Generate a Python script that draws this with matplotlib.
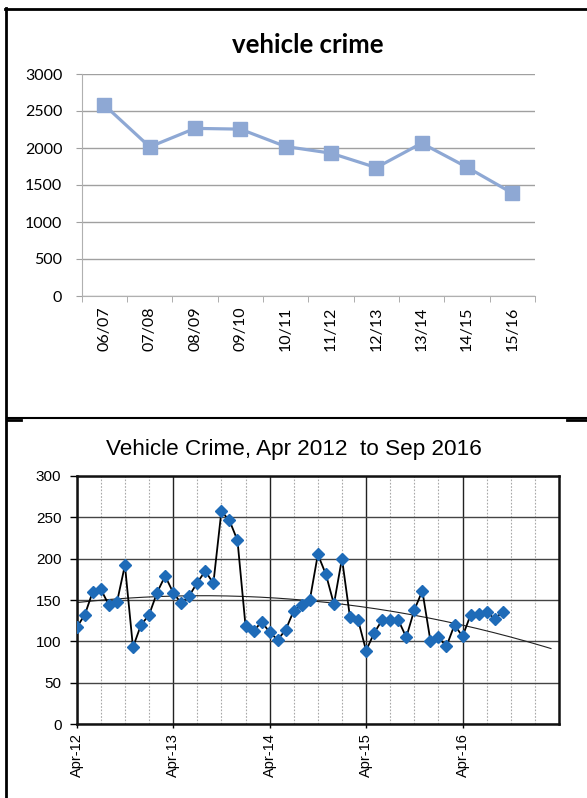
import numpy as np
import matplotlib
matplotlib.use("Agg")
import matplotlib.pyplot as plt
from matplotlib.lines import Line2D

# yearly totals (top chart)
years = ["06/07", "07/08", "08/09", "09/10", "10/11", "11/12", "12/13", "13/14", "14/15", "15/16"]
yearly = [2580, 2015, 2265, 2255, 2020, 1930, 1735, 2065, 1740, 1390]

# monthly counts Apr 2012 - Sep 2016 (bottom chart)
monthly = [117, 132, 160, 163, 144, 147, 192, 93, 120, 132, 159, 179,
           159, 146, 155, 171, 185, 170, 257, 246, 222, 119, 112, 124,
           111, 102, 114, 137, 144, 150, 205, 181, 145, 200, 129, 126,
           89, 110, 126, 126, 126, 105, 138, 161, 101, 105, 94, 120,
           106, 132, 133, 136, 127, 136]
month_ticks = ["Apr-12", "Apr-13", "Apr-14", "Apr-15", "Apr-16"]

W, H = 587, 798
fig = plt.figure(figsize=(W / 100, H / 100), dpi=100)

def fx(px):
    return px / W

def fy(py):
    return 1 - py / H

# ---------- top chart ----------
ax1 = fig.add_axes([fx(81.7), fy(296), fx(535 - 81.7), (296 - 74) / H])
col = "#8EA8D4"
x1 = np.arange(len(yearly))
ax1.plot(x1, yearly, color=col, lw=2.3, marker="s", ms=10, mec=col, mfc=col)
ax1.set_xlim(-0.5, len(yearly) - 0.5)
ax1.set_ylim(0, 3000)
ax1.set_yticks(range(0, 3001, 500))
ax1.yaxis.grid(True, color="#A0A0A0", lw=1)
ax1.set_axisbelow(True)
ax1.set_xticks(x1)
ax1.set_xticklabels(years, rotation=90, fontname="Lato", fontsize=11.5)
ax1.set_xticks(np.arange(-0.5, len(yearly)), minor=True)
ax1.tick_params(axis="x", which="major", length=0, pad=7.5)
ax1.tick_params(axis="x", which="minor", length=4, color="#A0A0A0", direction="out")
ax1.tick_params(axis="y", length=4, color="#A0A0A0", pad=10)
for lab in ax1.get_yticklabels():
    lab.set_fontname("Lato")
    lab.set_fontsize(11.5)
for s in ["top", "right"]:
    ax1.spines[s].set_visible(False)
for s in ["left", "bottom"]:
    ax1.spines[s].set_color("#B0B0B0")
fig.text(fx(308), fy(53.3), "vehicle crime", ha="center", va="baseline",
         fontname="Lato", fontweight="bold", fontsize=18.5)

# ---------- bottom chart ----------
ax2 = fig.add_axes([fx(76.7), fy(724.3), fx(559 - 76.7), (724.3 - 475.7) / H])
t = np.arange(len(monthly))
ax2.plot(t, monthly, color="black", lw=1.3, zorder=3)
ax2.plot(t, monthly, ls="none", marker="D", ms=6.5, color="#1E6BB8", zorder=4)
coef = np.polyfit(t, monthly, 2)
tt = np.linspace(0, len(monthly) - 1 + 6, 200)
ax2.plot(tt, np.polyval(coef, tt), color="#222222", lw=0.8, zorder=2)
ax2.set_xlim(0, 60)
ax2.set_ylim(0, 300)
ax2.set_yticks(range(0, 301, 50))
ax2.set_xticks(range(0, 60, 12))
ax2.set_xticklabels(month_ticks, rotation=90, fontname="Liberation Sans", fontsize=10.5)
ax2.set_xticks(range(0, 61, 3), minor=True)
ax2.xaxis.grid(True, which="minor", color="#A8A8A8", lw=0.8, ls=(0, (1.5, 1.5)))
ax2.xaxis.grid(True, which="major", color="#222222", lw=1)
ax2.yaxis.grid(True, color="#444444", lw=1)
ax2.set_axisbelow(True)
ax2.tick_params(axis="x", which="major", length=3, width=1, pad=3)
ax2.tick_params(axis="x", which="minor", length=0)
ax2.tick_params(axis="y", length=5, width=1, pad=6)
for lab in ax2.get_yticklabels():
    lab.set_fontname("Liberation Sans")
    lab.set_fontsize(11)
for s in ax2.spines.values():
    s.set_linewidth(1.8)
    s.set_color("#111111")
fig.text(fx(106), fy(455), "Vehicle Crime, Apr 2012  to Sep 2016", ha="left",
         va="baseline", fontname="Liberation Sans", fontsize=16.2)

# ---------- page borders ----------
def hline(y, x0, x1, lw):
    fig.add_artist(Line2D([fx(x0), fx(x1)], [fy(y), fy(y)], color="black", lw=lw))

def vline(x, y0, y1, lw):
    fig.add_artist(Line2D([fx(x), fx(x)], [fy(y0), fy(y1)], color="black", lw=lw))

vline(5.7, 8, 798, 2)
hline(8.7, 5, 587, 2)
hline(418.3, 7, 587, 1.5)
hline(420, 7, 21, 2)
hline(420, 567, 587, 2)

fig.savefig("out.png", dpi=100)
